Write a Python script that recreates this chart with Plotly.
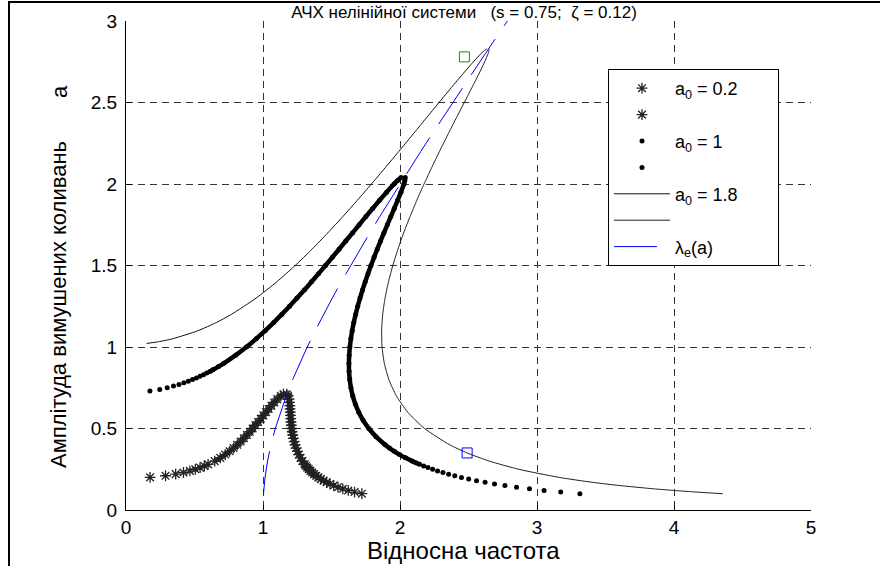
import plotly.graph_objects as go

# ---------------- data ----------------
# a0 = 0.2 : left (lower-frequency) branch
A02_LO = [0.20, 0.21, 0.22, 0.23, 0.24, 0.25, 0.26, 0.27, 0.28,
          0.30, 0.32, 0.34, 0.36, 0.38, 0.40, 0.42, 0.44, 0.46, 0.48, 0.50,
          0.52, 0.54, 0.56, 0.58, 0.60, 0.62, 0.64, 0.66, 0.68, 0.70, 0.71]
L02_LO = [0.1758, 0.2885, 0.3625, 0.4195, 0.4663, 0.5061, 0.5408, 0.5716, 0.5993,
          0.6475, 0.6885, 0.7244, 0.7564, 0.7854, 0.8121, 0.8370, 0.8604, 0.8826, 0.9039, 0.9245,
          0.9445, 0.9641, 0.9835, 1.0027, 1.0219, 1.0413, 1.0612, 1.0819, 1.1042, 1.1305, 1.1493]
# a0 = 0.2 : right branch
A02_HI = [0.10, 0.11, 0.12, 0.13, 0.14, 0.15, 0.16, 0.17, 0.18, 0.19, 0.20,
          0.21, 0.22, 0.23, 0.24, 0.25, 0.26, 0.27, 0.28,
          0.30, 0.32, 0.34, 0.36, 0.38, 0.40, 0.42, 0.44, 0.46, 0.48, 0.50,
          0.52, 0.54, 0.56, 0.58, 0.60, 0.62, 0.64, 0.66, 0.68, 0.70, 0.71]
L02_HI = [1.7217, 1.6681, 1.6222, 1.5823, 1.5473, 1.5164, 1.4890, 1.4644, 1.4423, 1.4223, 1.4041,
          1.3876, 1.3725, 1.3586, 1.3459, 1.3342, 1.3234, 1.3134, 1.3042,
          1.2877, 1.2736, 1.2614, 1.2509, 1.2418, 1.2340, 1.2274, 1.2217, 1.2169, 1.2128, 1.2094,
          1.2066, 1.2043, 1.2024, 1.2007, 1.1992, 1.1978, 1.1961, 1.1939, 1.1903, 1.1830, 1.1737]

# a0 = 1 : left branch
A1_LO = [0.73, 0.74, 0.75, 0.76, 0.77, 0.78, 0.79, 0.80, 0.81, 0.82, 0.83, 0.84, 0.85, 0.86,
         0.88, 0.90, 0.95, 1.00, 1.05, 1.10, 1.15, 1.20, 1.25, 1.30, 1.35, 1.40, 1.45,
         1.50, 1.55, 1.60, 1.65, 1.70, 1.75, 1.80, 1.85, 1.90, 1.95, 2.00, 2.02, 2.04]
L1_LO = [0.1745, 0.2463, 0.3008, 0.3465, 0.3864, 0.4222, 0.4549, 0.4852, 0.5135, 0.5401,
         0.5653, 0.5892, 0.6121, 0.6340, 0.6753, 0.7139, 0.8012, 0.8789, 0.9498, 1.0157,
         1.0778, 1.1369, 1.1937, 1.2486, 1.3020, 1.3542, 1.4055, 1.4559, 1.5058, 1.5552,
         1.6043, 1.6533, 1.7022, 1.7512, 1.8006, 1.8507, 1.9022, 1.9566, 1.9804, 2.0078]
# a0 = 1 : right branch
A1_HI = [0.10, 0.11, 0.12, 0.13, 0.14, 0.15, 0.16, 0.17, 0.18, 0.19, 0.20,
         0.21, 0.22, 0.23, 0.24, 0.25, 0.26, 0.27, 0.28, 0.29, 0.30,
         0.32, 0.34, 0.36, 0.38, 0.40,
         0.45, 0.50, 0.55, 0.60, 0.65, 0.70, 0.75, 0.80, 0.85, 0.90, 0.95, 1.00,
         1.05, 1.10, 1.15, 1.20, 1.25, 1.30, 1.35, 1.40, 1.45, 1.50, 1.55, 1.60,
         1.65, 1.70, 1.75, 1.80, 1.85, 1.90, 1.95, 2.00, 2.02, 2.04]
L1_HI = [3.3130, 3.1730, 3.0515, 2.9449, 2.8504, 2.7659, 2.6899, 2.6211, 2.5585, 2.5012, 2.4485,
         2.4000, 2.3551, 2.3134, 2.2746, 2.2384, 2.2046, 2.1729, 2.1431, 2.1151, 2.0888,
         2.0404, 1.9971, 1.9583, 1.9233, 1.8917,
         1.8250, 1.7725, 1.7312, 1.6988, 1.6739, 1.6552, 1.6418, 1.6331, 1.6284, 1.6272, 1.6292, 1.6340,
         1.6413, 1.6510, 1.6627, 1.6762, 1.6915, 1.7083, 1.7265, 1.7460, 1.7666, 1.7882, 1.8107, 1.8340,
         1.8580, 1.8826, 1.9076, 1.9328, 1.9581, 1.9830, 2.0070, 2.0283, 2.0350, 2.0380]

# a0 = 1.8 : left branch
A18_LO = [1.022, 1.03, 1.05, 1.10, 1.15, 1.20, 1.30, 1.40, 1.50, 1.60, 1.70, 1.80, 1.90,
          2.00, 2.10, 2.20, 2.30, 2.40, 2.50, 2.60, 2.70, 2.75, 2.80, 2.82, 2.83]
L18_LO = [0.1499, 0.2212, 0.3384, 0.5254, 0.6593, 0.7690, 0.9496, 1.1008, 1.2348, 1.3577,
          1.4729, 1.5827, 1.6885, 1.7915, 1.8922, 1.9915, 2.0897, 2.1873, 2.2849, 2.3833,
          2.4837, 2.5360, 2.5919, 2.6175, 2.6335]
# a0 = 1.8 : right branch
A18_HI = [0.10, 0.11, 0.12, 0.13, 0.15, 0.17, 0.20, 0.25, 0.30, 0.35, 0.40, 0.50, 0.60,
          0.70, 0.80, 0.90, 1.00, 1.10, 1.20, 1.30, 1.40, 1.50, 1.60, 1.70, 1.80, 1.90,
          2.00, 2.10, 2.20, 2.30, 2.40, 2.50, 2.60, 2.70, 2.75, 2.80, 2.82, 2.83]
L18_HI = [4.3563, 4.1644, 3.9975, 3.8507, 3.6036, 3.4027, 3.1620, 2.8660, 2.6521, 2.4900,
          2.3631, 2.1793, 2.0565, 1.9736, 1.9190, 1.8856, 1.8690, 1.8659, 1.8738, 1.8909,
          1.9159, 1.9475, 1.9847, 2.0268, 2.0730, 2.1228, 2.1756, 2.2309, 2.2883, 2.3475,
          2.4079, 2.4691, 2.5303, 2.5901, 2.6182, 2.6429, 2.6495, 2.6496]

# backbone curve lambda_e(a)
A_BB = [0.1, 0.2, 0.3, 0.4, 0.5, 0.6, 0.7, 0.8, 0.9, 1.0, 1.1, 1.2, 1.3, 1.4, 1.5,
        1.6, 1.7, 1.8, 1.9, 2.0, 2.1, 2.2, 2.3, 2.4, 2.5, 2.6, 2.7, 2.8, 2.9, 3.0]
L_BB = [1.0037, 1.0149, 1.0332, 1.0583, 1.0897, 1.1269, 1.1694, 1.2166, 1.2679, 1.3229,
        1.3811, 1.4422, 1.5058, 1.5716, 1.6394, 1.7088, 1.7798, 1.8520, 1.9255, 2.0000,
        2.0755, 2.1517, 2.2288, 2.3065, 2.3849, 2.4637, 2.5431, 2.6230, 2.7032, 2.7839]

# marked points (squares)
SQ_GREEN = (2.47, 2.78)
SQ_BLUE = (2.49, 0.35)

X_TICKS = [0, 1, 2, 3, 4, 5]
Y_TICKS = [0, 0.5, 1, 1.5, 2, 2.5, 3]

TITLE = "АЧХ нелінійної системи\u00a0\u00a0\u00a0(s = 0.75;\u00a0\u00a0ζ = 0.12)"
XLABEL = "Відносна частота"
YLABEL = "Амплітуда вимушених коливань"
YLABEL_SYM = "a"
LEG_NAMES = ["a<sub>0</sub> = 0.2" + "\u00a0" * 7, "\u00a0", "a<sub>0</sub> = 1", "\u00a0",
             "a<sub>0</sub> = 1.8", "\u00a0", "λ<sub>e</sub>(a)"]

FONT = "Liberation Sans, Arial, Helvetica, sans-serif"


def dense(xs, ys, amin):
    px = [x for x, a in zip(xs, ys) if a >= amin]
    py = [a for a in ys if a >= amin]
    return px, py


fig = go.Figure()

# thick "dense" strokes (no legend)
for lam, amp, amin, col, w in [
    (L02_LO, A02_LO, 0.29, "#333333", 5),
    (L02_HI, A02_HI, 0.16, "#333333", 5),
    (L1_LO, A1_LO, 0.85, "#000000", 4.5),
    (L1_HI, A1_HI, 0.28, "#000000", 4.5),
]:
    dx, dy = dense(lam, amp, amin)
    fig.add_trace(go.Scatter(x=dx, y=dy, mode="lines", showlegend=False, hoverinfo="skip",
                             line=dict(color=col, width=w, shape="spline", smoothing=0.8)))

ast = dict(symbol="asterisk-open", size=9, color="#222222", line=dict(color="#222222", width=1.3))
dot = dict(symbol="circle", size=5, color="#000000", line=dict(width=0))

fig.add_trace(go.Scatter(x=L02_LO, y=A02_LO, mode="markers", name=LEG_NAMES[0], marker=ast))
fig.add_trace(go.Scatter(x=L02_HI, y=A02_HI, mode="markers", name=LEG_NAMES[1], marker=ast))
fig.add_trace(go.Scatter(x=L1_LO, y=A1_LO, mode="markers", name=LEG_NAMES[2], marker=dot))
fig.add_trace(go.Scatter(x=L1_HI, y=A1_HI, mode="markers", name=LEG_NAMES[3], marker=dot))
fig.add_trace(go.Scatter(x=L18_LO, y=A18_LO, mode="lines", name=LEG_NAMES[4],
                         line=dict(color="#111111", width=1, shape="spline", smoothing=0.6)))
fig.add_trace(go.Scatter(x=L18_HI, y=A18_HI, mode="lines", name=LEG_NAMES[5],
                         line=dict(color="#222222", width=1, shape="spline", smoothing=0.6)))
fig.add_trace(go.Scatter(x=L_BB, y=A_BB, mode="lines", name=LEG_NAMES[6],
                         line=dict(color="#0000ff", width=1, dash="43px,16px")))

fig.add_trace(go.Scatter(x=[SQ_GREEN[0]], y=[SQ_GREEN[1]], mode="markers", showlegend=False,
                         marker=dict(symbol="square-open", size=10, color="#009900",
                                     line=dict(color="#009900", width=1))))
fig.add_trace(go.Scatter(x=[SQ_BLUE[0]], y=[SQ_BLUE[1]], mode="markers", showlegend=False,
                         marker=dict(symbol="square-open", size=10, color="#0000ff",
                                     line=dict(color="#0000ff", width=1))))

L, R, T, B = 126, 69, 21, 56
W, H = 880, 566
pw, ph = W - L - R, H - T - B


def px_x(p):
    return (p - L) / pw


def px_y(p):
    return (H - B - p) / ph


axis_common = dict(showline=True, linecolor="black", linewidth=1, mirror=False,
                   ticks="inside", ticklen=5, tickcolor="black", tickwidth=1,
                   showgrid=True, gridcolor="#333333", gridwidth=1, griddash="7px,5px",
                   zeroline=False, tickfont=dict(family=FONT, size=19, color="black"))

fig.update_layout(
    width=W, height=H,
    margin=dict(l=L, r=R, t=T, b=B),
    paper_bgcolor="white", plot_bgcolor="white",
    font=dict(family=FONT, color="black"),
    title=dict(text=TITLE, x=px_x(464), xref="paper", xanchor="center",
               y=1 - 12 / H, yref="container", yanchor="middle",
               font=dict(family=FONT, size=17, color="black")),
    xaxis=dict(range=[0, 5], tickvals=X_TICKS, **axis_common),
    yaxis=dict(range=[0, 3], tickvals=Y_TICKS, ticklabelstandoff=4, **axis_common),
    legend=dict(x=px_x(608), y=px_y(69), xanchor="left", yanchor="top",
                bgcolor="white", bordercolor="black", borderwidth=1,
                font=dict(family=FONT, size=18, color="black"),
                itemwidth=56, tracegroupgap=0),
    showlegend=True,
)

fig.add_annotation(text=XLABEL, x=px_x(463), y=px_y(550), xref="paper", yref="paper",
                   showarrow=False, xanchor="center", yanchor="middle",
                   font=dict(family=FONT, size=24, color="black"))
fig.add_annotation(text=YLABEL, x=px_x(58), y=px_y(305), xref="paper", yref="paper",
                   showarrow=False, textangle=-90, xanchor="center", yanchor="middle",
                   font=dict(family=FONT, size=22, color="black"))
fig.add_annotation(text=YLABEL_SYM, x=px_x(60), y=px_y(92), xref="paper", yref="paper",
                   showarrow=False, textangle=-90, xanchor="center", yanchor="middle",
                   font=dict(family=FONT, size=22, color="black"))

# outer figure frame (left and top edges visible)
fig.add_shape(type="rect", xref="paper", yref="paper",
              x0=px_x(9), y0=px_y(600), x1=px_x(900), y1=px_y(2),
              line=dict(color="black", width=2), fillcolor="rgba(0,0,0,0)", layer="above")

fig.write_html("out.html")
